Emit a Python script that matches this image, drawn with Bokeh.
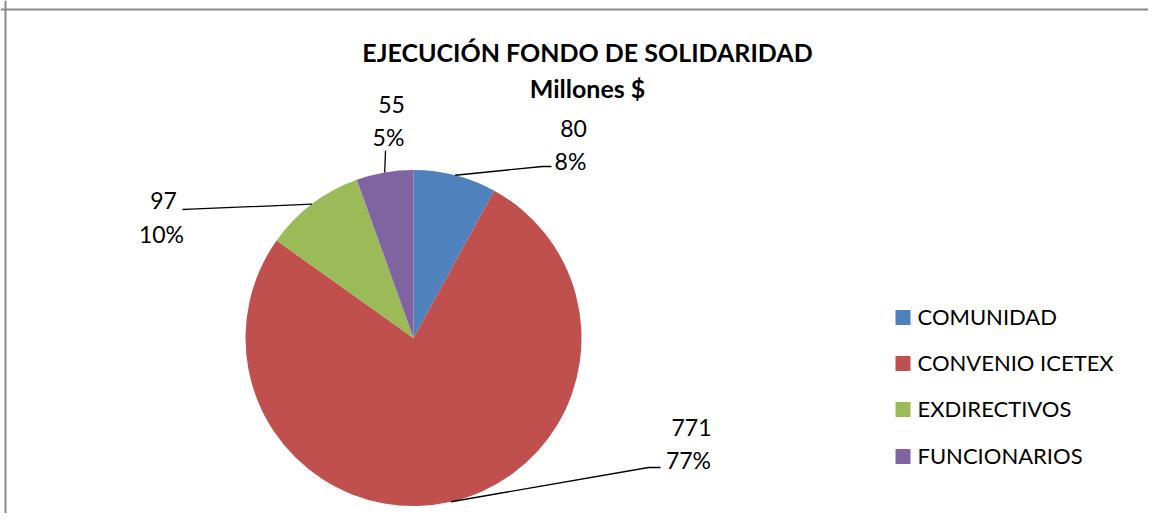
import math
from bokeh.plotting import figure
from bokeh.models import ColumnDataSource, Range1d, Span
from bokeh.core.properties import value
from bokeh.embed import file_html
from bokeh.resources import INLINE

# ---- data ----
categories = ["COMUNIDAD", "CONVENIO ICETEX", "EXDIRECTIVOS", "FUNCIONARIOS"]
values = [80, 771, 97, 55]
colors = ["#4F81BD", "#C0504D", "#9BBB59", "#8064A2"]
title_lines = ["EJECUCIÓN FONDO DE SOLIDARIDAD", "Millones $"]

# ---- layout (picture pixel coords) ----
W, H = 1148, 513
def X(px): return px
def Y(py): return H - py

CX, CY, R = 413, 337.5, 168
FONT = "Lato"

# label centres: (value line, percent line), elbow and end of leader line
label_pos = [((573, 128), (570, 160)),
             ((691, 427), (688, 459)),
             ((163, 200), (161, 233)),
             ((391, 104), (388, 136))]
leader_pts = [((542, 166), (551, 166)),
              ((648, 467), (660, 467)),
              ((190, 208.7), (182, 209)),
              ((385, 150), (385, 150))]

total = sum(values)
starts, ends, mids = [], [], []
cum = 0
for v in values:
    a0 = 90 - cum / total * 360
    cum += v
    a1 = 90 - cum / total * 360
    starts.append(a0); ends.append(a1); mids.append((a0 + a1) / 2)
pcts = [f"{round(v / total * 100)}%" for v in values]

p = figure(width=W, height=H, output_backend="svg", toolbar_location=None,
           x_range=Range1d(0, W), y_range=Range1d(0, H),
           x_axis_type=None, y_axis_type=None, min_border=0,
           background_fill_color="white", border_fill_color="white")
p.grid.visible = False
p.outline_line_color = None

# border (left & top)
p.add_layout(Span(location=X(5), dimension="height", line_color="#8a8a8a", line_width=2))
p.add_layout(Span(location=Y(9), dimension="width", line_color="#8a8a8a", line_width=2))

src = ColumnDataSource(dict(start=starts, end=ends, color=colors, cat=categories, val=values))
p.wedge(x=X(CX), y=Y(CY), radius=R, start_angle="start", end_angle="end",
        start_angle_units="deg", end_angle_units="deg", direction="clock",
        fill_color="color", line_color=None, source=src)

# leader lines
xs, ys = [], []
for m, (elb, end) in zip(mids, leader_pts):
    ax = CX + R * math.cos(math.radians(m))
    ay = CY - R * math.sin(math.radians(m))
    xs.append([X(ax), X(elb[0]), X(end[0])])
    ys.append([Y(ay), Y(elb[1]), Y(end[1])])
p.multi_line(xs=xs, ys=ys, line_color="black", line_width=1.3)

# data labels
lx, ly, lt = [], [], []
for v, pc, (vp, pp) in zip(values, pcts, label_pos):
    lx += [X(vp[0]), X(pp[0])]
    ly += [Y(vp[1]), Y(pp[1])]
    lt += [str(v), pc]
p.text(x=lx, y=ly, text=lt, text_font=value(FONT), text_font_size=value("23px"),
       text_align="center", text_baseline="middle", text_color="black")

# title
p.text(x=[X(587), X(587)], y=[Y(51), Y(87)], text=title_lines,
       text_font=value(FONT), text_font_size=value("25px"), text_font_style="bold",
       text_align="center", text_baseline="middle", text_color="black")

# legend
leg_y = [317, 363, 409, 456]
p.rect(x=[X(902.5)] * 4, y=[Y(v) for v in leg_y], width=15, height=15,
       fill_color=colors, line_color=None)
p.text(x=[X(917)] * 4, y=[Y(v - 1) for v in leg_y], text=categories,
       text_font=value(FONT), text_font_size=value("22px"),
       text_align="left", text_baseline="middle", text_color="black")

open("out.html", "w").write(file_html(p, INLINE))
